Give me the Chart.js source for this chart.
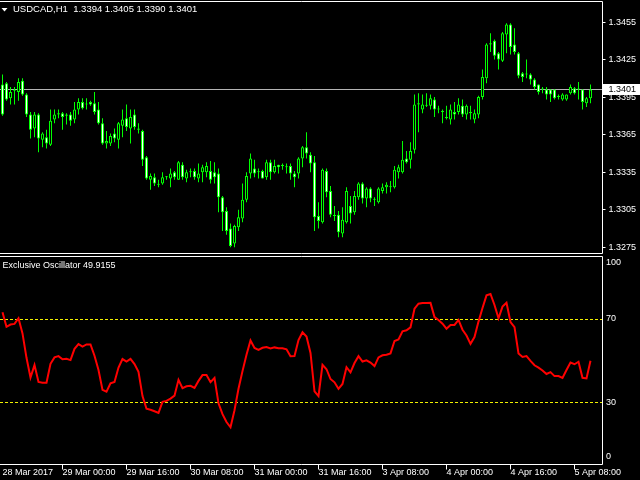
<!DOCTYPE html>
<html><head><meta charset="utf-8">
<script src="https://cdn.jsdelivr.net/npm/chart.js@4.4.1/dist/chart.umd.min.js"></script>
<style>
html,body{margin:0;padding:0;background:#000;width:640px;height:480px;overflow:hidden}
canvas{position:absolute;left:0;display:block}
#c1{top:0}
#c2{top:256px}
</style></head><body>
<canvas id="c1" width="640" height="256"></canvas>
<canvas id="c2" width="640" height="224"></canvas>
<script>
const symbol = 'USDCAD,H1';
const indicatorName = 'Exclusive Oscillator';

const opens = [
1.3405,1.3406,1.3394,1.3401,1.3399,1.3408,1.3397,1.3381,1.3370,1.3381,
1.3361,1.3363,1.3357,1.3377,1.3381,1.3382,1.3381,1.3381,1.3377,1.3385,
1.3391,1.3389,1.3391,1.3390,1.3385,1.3374,1.3358,1.3358,1.3366,1.3361,
1.3372,1.3378,1.3370,1.3381,1.3370,1.3368,1.3347,1.3329,1.3331,1.3325,
1.3326,1.3331,1.3330,1.3335,1.3329,1.3341,1.3330,1.3335,1.3336,1.3330,
1.3335,1.3335,1.3336,1.3335,1.3334,1.3315,1.3304,1.3290,1.3278,1.3291,
1.3298,1.3313,1.3334,1.3338,1.3335,1.3336,1.3331,1.3343,1.3335,1.3341,
1.3340,1.3339,1.3340,1.3334,1.3334,1.3346,1.3355,1.3349,1.3343,1.3300,
1.3295,1.3336,1.3320,1.3300,1.3301,1.3286,1.3295,1.3308,1.3303,1.3315,
1.3326,1.3314,1.3322,1.3313,1.3311,1.3320,1.3323,1.3323,1.3323,1.3335,
1.3335,1.3346,1.3345,1.3353,1.3389,1.3385,1.3388,1.3388,1.3393,1.3385,
1.3384,1.3379,1.3377,1.3383,1.3383,1.3388,1.3381,1.3382,1.3377,1.3381,
1.3395,1.3410,1.3437,1.3440,1.3430,1.3424,1.3445,1.3453,1.3437,1.3430,
1.3414,1.3413,1.3413,1.3409,1.3405,1.3401,1.3401,1.3401,1.3401,1.3395,
1.3393,1.3393,1.3398,1.3402,1.3401,1.3401,1.3390,1.3394];
const highs = [
1.3413,1.3407,1.3403,1.3403,1.3410,1.3410,1.3398,1.3383,1.3383,1.3382,
1.3367,1.3369,1.3385,1.3385,1.3385,1.3383,1.3382,1.3383,1.3391,1.3394,
1.3394,1.3394,1.3392,1.3399,1.3391,1.3378,1.3368,1.3366,1.3370,1.3375,
1.3385,1.3389,1.3385,1.3385,1.3374,1.3369,1.3348,1.3334,1.3334,1.3329,
1.3335,1.3332,1.3338,1.3336,1.3344,1.3343,1.3337,1.3338,1.3338,1.3342,
1.3341,1.3343,1.3344,1.3343,1.3338,1.3316,1.3307,1.3294,1.3293,1.3305,
1.3326,1.3335,1.3350,1.3345,1.3338,1.3337,1.3345,1.3345,1.3345,1.3341,
1.3342,1.3342,1.3342,1.3336,1.3347,1.3356,1.3367,1.3351,1.3348,1.3311,
1.3338,1.3338,1.3324,1.3308,1.3304,1.3307,1.3323,1.3316,1.3320,1.3327,
1.3327,1.3323,1.3323,1.3315,1.3323,1.3326,1.3327,1.3328,1.3340,1.3341,
1.3360,1.3352,1.3359,1.3397,1.3398,1.3397,1.3398,1.3397,1.3395,1.3388,
1.3385,1.3388,1.3389,1.3391,1.3394,1.3393,1.3389,1.3388,1.3385,1.3396,
1.3417,1.3438,1.3446,1.3441,1.3431,1.3447,1.3454,1.3454,1.3450,1.3431,
1.3415,1.3425,1.3414,1.3410,1.3405,1.3403,1.3403,1.3401,1.3401,1.3397,
1.3398,1.3397,1.3405,1.3403,1.3407,1.3401,1.3395,1.3405];
const lows = [
1.3380,1.3392,1.3389,1.3389,1.3392,1.3396,1.3379,1.3362,1.3363,1.3351,
1.3355,1.3354,1.3356,1.3374,1.3378,1.3369,1.3373,1.3372,1.3374,1.3381,
1.3385,1.3385,1.3388,1.3381,1.3373,1.3357,1.3354,1.3356,1.3359,1.3354,
1.3363,1.3368,1.3358,1.3369,1.3366,1.3340,1.3329,1.3321,1.3324,1.3323,
1.3325,1.3329,1.3323,1.3329,1.3329,1.3329,1.3327,1.3331,1.3329,1.3327,
1.3327,1.3331,1.3326,1.3326,1.3303,1.3288,1.3285,1.3275,1.3275,1.3288,
1.3295,1.3311,1.3330,1.3331,1.3330,1.3330,1.3329,1.3329,1.3334,1.3334,
1.3337,1.3334,1.3329,1.3323,1.3330,1.3339,1.3346,1.3335,1.3288,1.3290,
1.3294,1.3315,1.3299,1.3296,1.3283,1.3283,1.3294,1.3294,1.3301,1.3313,
1.3310,1.3307,1.3311,1.3308,1.3310,1.3318,1.3318,1.3319,1.3322,1.3330,
1.3334,1.3342,1.3338,1.3350,1.3367,1.3382,1.3387,1.3385,1.3379,1.3382,
1.3374,1.3377,1.3373,1.3377,1.3381,1.3379,1.3377,1.3377,1.3374,1.3378,
1.3393,1.3406,1.3431,1.3425,1.3417,1.3423,1.3430,1.3429,1.3429,1.3410,
1.3407,1.3410,1.3405,1.3401,1.3397,1.3398,1.3393,1.3391,1.3393,1.3393,
1.3392,1.3392,1.3397,1.3397,1.3393,1.3385,1.3387,1.3390];
const closes = [
1.3381,1.3393,1.3399,1.3400,1.3407,1.3397,1.3381,1.3369,1.3381,1.3362,
1.3366,1.3358,1.3376,1.3381,1.3382,1.3379,1.3380,1.3376,1.3385,1.3391,
1.3386,1.3389,1.3389,1.3383,1.3374,1.3358,1.3360,1.3364,1.3362,1.3374,
1.3377,1.3371,1.3379,1.3371,1.3369,1.3345,1.3330,1.3332,1.3326,1.3325,
1.3331,1.3331,1.3334,1.3331,1.3343,1.3331,1.3335,1.3335,1.3331,1.3334,
1.3339,1.3340,1.3329,1.3331,1.3315,1.3303,1.3288,1.3276,1.3292,1.3299,
1.3313,1.3332,1.3346,1.3334,1.3335,1.3330,1.3343,1.3335,1.3340,1.3339,
1.3340,1.3339,1.3334,1.3331,1.3346,1.3355,1.3350,1.3342,1.3299,1.3296,
1.3337,1.3319,1.3301,1.3300,1.3287,1.3297,1.3320,1.3302,1.3316,1.3326,
1.3314,1.3322,1.3314,1.3313,1.3322,1.3323,1.3325,1.3323,1.3337,1.3339,
1.3345,1.3343,1.3352,1.3389,1.3390,1.3389,1.3388,1.3394,1.3385,1.3385,
1.3383,1.3378,1.3385,1.3381,1.3389,1.3381,1.3388,1.3383,1.3382,1.3395,
1.3411,1.3437,1.3438,1.3428,1.3425,1.3446,1.3453,1.3435,1.3431,1.3412,
1.3411,1.3413,1.3409,1.3403,1.3399,1.3401,1.3397,1.3397,1.3394,1.3395,
1.3397,1.3397,1.3403,1.3398,1.3401,1.3391,1.3394,1.3401];

const osc = [
73.2,66.2,67.3,67.6,70.3,63.0,51.3,41.8,47.8,39.7,
39.3,39.3,48.4,51.5,52.1,50.6,50.8,50.2,55.6,57.9,
56.7,57.7,57.7,52.3,45.4,35.9,35.0,39.0,39.7,46.6,
50.7,49.5,50.8,48.3,44.6,32.9,26.8,26.3,25.6,24.8,
30.1,30.6,31.7,33.1,40.7,36.7,37.6,37.8,36.8,40.2,
43.0,43.0,39.6,41.6,29.4,24.2,20.4,17.9,26.1,36.4,
44.9,52.8,59.6,56.0,55.1,56.1,56.5,55.8,56.3,55.9,
55.9,55.4,52.1,52.2,59.8,63.6,61.5,53.6,35.2,32.9,
47.9,45.8,41.1,39.5,36.4,38.7,46.8,44.3,48.8,52.1,
49.5,50.1,49.0,47.3,51.5,52.5,52.8,53.4,59.4,60.1,
64.0,64.5,65.9,74.9,77.3,77.6,77.6,77.7,70.9,69.5,
67.7,65.3,67.1,67.1,69.5,64.8,62.0,58.0,61.3,68.7,
75.2,81.3,82.0,76.7,70.3,75.9,77.8,68.5,66.0,53.4,
51.7,52.1,49.8,47.7,46.6,45.2,43.5,44.4,42.5,42.5,
41.6,45.4,49.0,48.2,49.4,41.7,41.4,49.9155];

const priceTicks = [1.3455, 1.3425, 1.3395, 1.3365, 1.3335, 1.3305, 1.3275];
const oscTicks = [100, 70, 30, 0];
const oscLevels = [70, 30];
const timeTickIdx = [0, 15, 31, 47, 63, 79, 95, 111, 127, 143];
const timeLabels = ['28 Mar 2017','29 Mar 00:00','29 Mar 16:00','30 Mar 08:00','31 Mar 00:00','31 Mar 16:00','3 Apr 08:00','4 Apr 00:00','4 Apr 16:00','5 Apr 08:00'];

const FONT = '"Liberation Sans", Arial, sans-serif';
Chart.defaults.font.family = FONT;
Chart.defaults.font.size = 9;
Chart.defaults.color = '#FFFFFF';

const idx = opens.map((_, i) => i);
const last = closes.length - 1;
const X_MIN = -0.625, X_MAX = 150;

function setTimeTicks(s) { s.ticks = timeTickIdx.map(v => ({ value: v })); }

const frame1 = {
  id: 'frame1',
  beforeDatasetsDraw(chart) {
    const { ctx, chartArea: a, scales } = chart;
    const y = Math.floor(scales.y.getPixelForValue(closes[last])) + 0.5;
    ctx.save();
    ctx.strokeStyle = '#B4B4B4';
    ctx.lineWidth = 1;
    ctx.beginPath(); ctx.moveTo(a.left, y); ctx.lineTo(a.right, y); ctx.stroke();
    ctx.restore();
  },
  afterDraw(chart) {
    const { ctx, chartArea: a, scales } = chart;
    ctx.save();
    ctx.strokeStyle = '#FFFFFF';
    ctx.lineWidth = 1;
    ctx.beginPath();
    ctx.moveTo(a.left, a.top); ctx.lineTo(a.right, a.top); ctx.lineTo(a.right, a.bottom); ctx.lineTo(a.left, a.bottom);
    ctx.stroke();
    // current price label
    const yp = Math.floor(scales.y.getPixelForValue(closes[last]));
    ctx.fillStyle = '#FFFFFF';
    ctx.fillRect(a.right + 0.5, yp - 5, 640 - a.right, 11);
    ctx.fillStyle = '#000000';
    ctx.font = '9px ' + FONT;
    ctx.textBaseline = 'middle';
    ctx.textAlign = 'left';
    ctx.fillText(closes[last].toFixed(4), a.right + 6, yp + 0.5);
    // title
    ctx.fillStyle = '#FFFFFF';
    ctx.beginPath(); ctx.moveTo(1.5, 8); ctx.lineTo(7.5, 8); ctx.lineTo(4.5, 11.5); ctx.closePath(); ctx.fill();
    ctx.font = '9.5px ' + FONT;
    const t = symbol + '  ' + [opens[last], highs[last], lows[last], closes[last]].map(v => v.toFixed(4)).join(' ');
    ctx.fillText(t, 13, 9.5);
    ctx.restore();
  }
};

new Chart(document.getElementById('c1'), {
  type: 'bar',
  data: {
    datasets: [
      {
        label: 'body',
        data: idx.map(i => ({ x: i, y: [opens[i], closes[i]] })),
        backgroundColor: idx.map(i => closes[i] < opens[i] ? '#FFFFFF' : '#000000'),
        borderColor: '#00FF00', borderWidth: 1, borderSkipped: false,
        grouped: false, barPercentage: 1, categoryPercentage: 1, maxBarThickness: 3,
        minBarLength: 1, inflateAmount: 0, order: 1
      },
      {
        label: 'wick',
        data: idx.map(i => ({ x: i, y: [lows[i], highs[i]] })),
        backgroundColor: '#00FF00', borderWidth: 0,
        grouped: false, barPercentage: 1, categoryPercentage: 1, maxBarThickness: 1,
        inflateAmount: 0, order: 2
      }
    ]
  },
  options: {
    responsive: false, animation: false, devicePixelRatio: 1, events: [],
    layout: { padding: { top: 1.5, bottom: 2.5, left: 0, right: 0 } },
    plugins: { legend: { display: false }, tooltip: { enabled: false } },
    scales: {
      x: { type: 'linear', display: false, min: X_MIN, max: X_MAX, offset: false, bounds: 'data',
           grid: { offset: false }, afterBuildTicks: setTimeTicks },
      y: { type: 'linear', position: 'right', min: 1.32700, max: 1.34714,
           afterBuildTicks: s => { s.ticks = priceTicks.map(v => ({ value: v })); },
           afterFit: s => { s.width = 37.5; s.paddingTop = 0; s.paddingBottom = 0; },
           border: { display: false },
           grid: { drawOnChartArea: false, drawTicks: true, tickLength: 3, color: '#FFFFFF' },
           ticks: { padding: 3, color: '#FFFFFF', font: { size: 9 }, callback: v => Number(v).toFixed(4) } }
    }
  },
  plugins: [frame1]
});

const frame2 = {
  id: 'frame2',
  beforeDatasetsDraw(chart) {
    const { ctx, chartArea: a, scales } = chart;
    ctx.save();
    ctx.strokeStyle = '#F0F000';
    ctx.lineWidth = 1;
    ctx.setLineDash([3, 2]);
    oscLevels.forEach(v => {
      const y = Math.round(scales.y.getPixelForValue(v)) + 0.5;
      ctx.beginPath(); ctx.moveTo(a.left, y); ctx.lineTo(a.right, y); ctx.stroke();
    });
    ctx.restore();
  },
  afterDraw(chart) {
    const { ctx, chartArea: a, scales } = chart;
    ctx.save();
    ctx.strokeStyle = '#FFFFFF';
    ctx.lineWidth = 1;
    ctx.beginPath();
    ctx.moveTo(a.left, a.top); ctx.lineTo(a.right, a.top); ctx.lineTo(a.right, a.bottom); ctx.lineTo(a.left, a.bottom);
    ctx.stroke();
    ctx.fillStyle = '#FFFFFF';
    ctx.font = '9px ' + FONT;
    ctx.textBaseline = 'middle';
    ctx.textAlign = 'left';
    oscTicks.forEach(v => {
      let y = scales.y.getPixelForValue(v);
      y = Math.min(Math.max(y, a.top + 6.5), a.bottom - 7.5);
      ctx.fillText(String(v), a.right + 3.5, y);
    });
    ctx.fillText(indicatorName + ' ' + osc[last].toFixed(4), 2.5, 10);
    ctx.restore();
  }
};

new Chart(document.getElementById('c2'), {
  type: 'line',
  data: {
    datasets: [{
      label: indicatorName,
      data: idx.map(i => ({ x: i, y: osc[i] })),
      borderColor: '#FF0000', borderWidth: 2, pointRadius: 0, tension: 0, fill: false
    }]
  },
  options: {
    responsive: false, animation: false, devicePixelRatio: 1, events: [],
    layout: { padding: { top: 0.5, bottom: 0, left: 0, right: 0 } },
    plugins: { legend: { display: false }, tooltip: { enabled: false } },
    scales: {
      x: { type: 'linear', min: X_MIN, max: X_MAX, offset: false, bounds: 'data',
           afterBuildTicks: setTimeTicks,
           afterFit: s => { s.height = 15.5; s.paddingLeft = 0; s.paddingRight = 0; },
           border: { display: false },
           grid: { drawOnChartArea: false, drawTicks: true, tickLength: 5, offset: false,
                   color: c => (c.index === 0 ? 'rgba(0,0,0,0)' : '#FFFFFF') },
           ticks: { align: 'start', autoSkip: false, maxRotation: 0, minRotation: 0, padding: -2,
                    color: '#FFFFFF', font: { size: 9 },
                    callback: v => { const k = timeTickIdx.indexOf(v); return k < 0 ? '' : timeLabels[k]; } } },
      y: { type: 'linear', position: 'right', min: 0, max: 100,
           afterFit: s => { s.width = 37.5; s.paddingTop = 0; s.paddingBottom = 0; },
           border: { display: false }, grid: { display: false }, ticks: { display: false } }
    }
  },
  plugins: [frame2]
});
</script>
</body></html>
